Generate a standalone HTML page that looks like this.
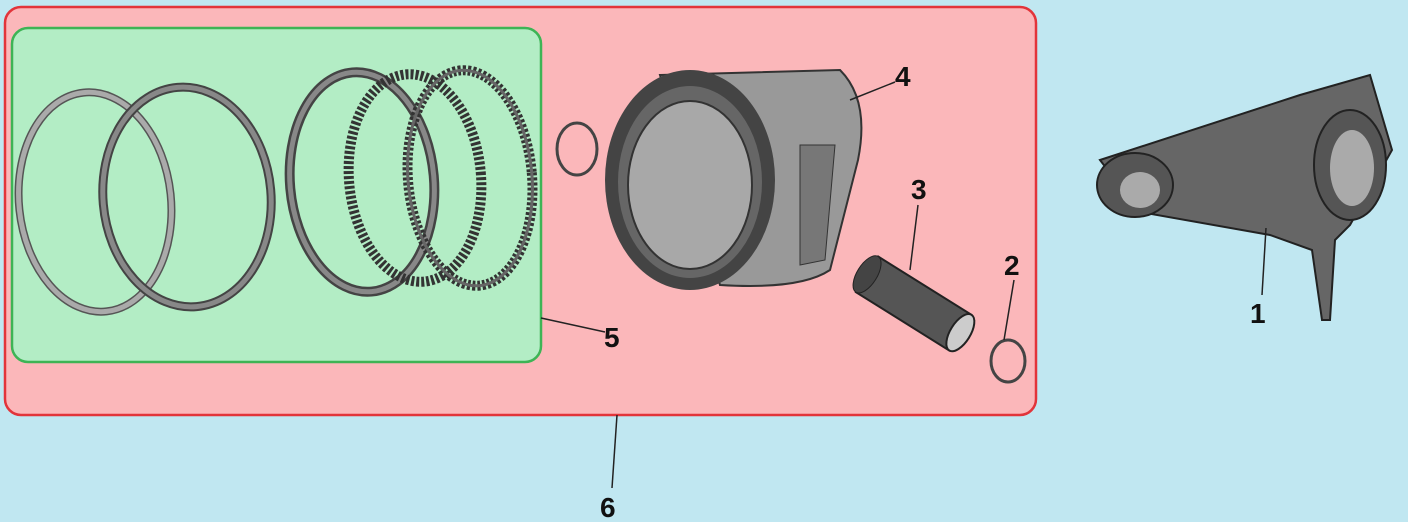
<!DOCTYPE html>
<html><head><style>
html,body{margin:0;padding:0;background:#c0e7f1;}
svg{display:block}
text{font-family:"Liberation Sans",sans-serif;font-weight:bold;font-size:28px;fill:#111}
</style></head><body>
<svg width="1408" height="522" viewBox="0 0 1408 522">
<rect x="0" y="0" width="1408" height="522" fill="#c0e7f1"/>
<rect x="5" y="7" width="1031" height="408" rx="16" fill="#fbb7ba" stroke="#e2343a" stroke-width="2.5"/>
<rect x="12" y="28" width="529" height="334" rx="16" fill="#b3edc5" stroke="#3db455" stroke-width="2.5"/>
<g fill="none">
<ellipse cx="95" cy="202" rx="76" ry="110" transform="rotate(-6 95 202)" stroke="#555" stroke-width="8"/>
<ellipse cx="95" cy="202" rx="76" ry="110" transform="rotate(-6 95 202)" stroke="#aaa" stroke-width="5"/>
<ellipse cx="187" cy="197" rx="84" ry="110" transform="rotate(-5 187 197)" stroke="#444" stroke-width="9"/>
<ellipse cx="187" cy="197" rx="84" ry="110" transform="rotate(-5 187 197)" stroke="#888" stroke-width="5"/>
<ellipse cx="362" cy="182" rx="72" ry="110" transform="rotate(-5 362 182)" stroke="#444" stroke-width="10"/>
<ellipse cx="362" cy="182" rx="72" ry="110" transform="rotate(-5 362 182)" stroke="#888" stroke-width="5"/>
<ellipse cx="415" cy="178" rx="66" ry="104" transform="rotate(-5 415 178)" stroke="#333" stroke-width="10" stroke-dasharray="3 2"/>
<ellipse cx="470" cy="178" rx="62" ry="108" transform="rotate(-5 470 178)" stroke="#333" stroke-width="10" stroke-dasharray="3 2"/>
<ellipse cx="470" cy="178" rx="62" ry="108" transform="rotate(-5 470 178)" stroke="#666" stroke-width="3"/>
<ellipse cx="577" cy="149" rx="20" ry="26" stroke="#444" stroke-width="3"/>
<ellipse cx="1008" cy="361" rx="17" ry="21" stroke="#444" stroke-width="3"/>
</g>
<path d="M660 75 L840 70 Q870 100 858 160 L830 270 Q800 290 720 285 Z" fill="#999" stroke="#333" stroke-width="2"/>
<ellipse cx="690" cy="180" rx="85" ry="110" fill="#444"/>
<ellipse cx="690" cy="182" rx="72" ry="96" fill="#666"/>
<ellipse cx="690" cy="185" rx="62" ry="84" fill="#a8a8a8" stroke="#333" stroke-width="2"/>
<path d="M800 145 L835 145 L825 260 L800 265 Z" fill="#777" stroke="#333"/>
<g transform="rotate(32 910 300)">
<rect x="860" y="280" width="110" height="42" fill="#555" stroke="#222" stroke-width="2"/>
<ellipse cx="970" cy="301" rx="10" ry="21" fill="#ccc" stroke="#222" stroke-width="2"/>
<ellipse cx="860" cy="301" rx="10" ry="21" fill="#444" stroke="#222"/>
</g>
<path d="M1100 160 L1300 95 L1370 75 L1392 150 L1350 225 L1335 240 L1330 320 L1322 320 L1312 250 L1270 235 L1140 212 Z" fill="#666" stroke="#222" stroke-width="2"/>
<ellipse cx="1135" cy="185" rx="38" ry="32" fill="#555" stroke="#222" stroke-width="2"/>
<ellipse cx="1140" cy="190" rx="20" ry="18" fill="#aaa"/>
<ellipse cx="1350" cy="165" rx="36" ry="55" fill="#555" stroke="#222" stroke-width="2"/>
<ellipse cx="1352" cy="168" rx="22" ry="38" fill="#aaa"/>
<g stroke="#222" stroke-width="1.5" fill="none">
<line x1="850" y1="100" x2="895" y2="82"/>
<line x1="910" y1="270" x2="918" y2="205"/>
<line x1="1004" y1="340" x2="1014" y2="280"/>
<line x1="541" y1="318" x2="605" y2="332"/>
<line x1="1266" y1="228" x2="1262" y2="295"/>
<line x1="617" y1="415" x2="612" y2="488"/>
</g>
<text x="895" y="86">4</text>
<text x="911" y="199">3</text>
<text x="1004" y="275">2</text>
<text x="604" y="347">5</text>
<text x="1250" y="323">1</text>
<text x="600" y="517">6</text>
</svg>
</body></html>
